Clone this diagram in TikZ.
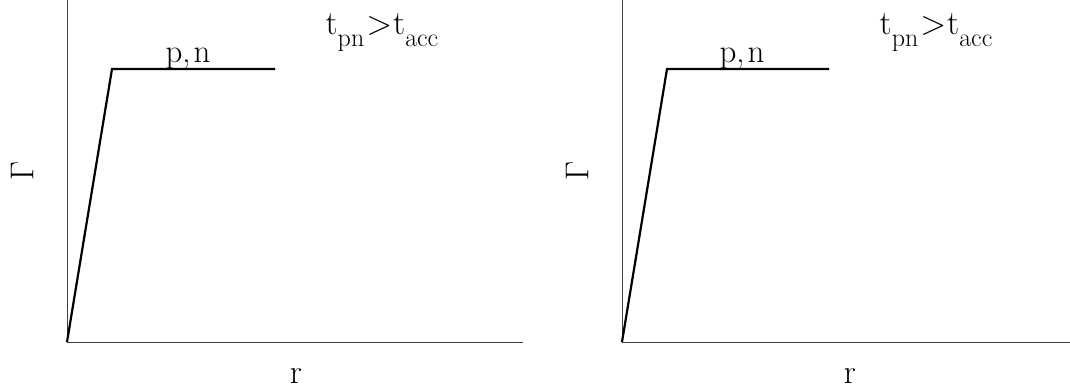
\RequirePackage{fix-cm}
\documentclass[tikz,border=0pt]{standalone}
\usepackage{amsmath, amssymb}
\usepackage{tikz}
\usetikzlibrary{positioning,calc}

\newcommand{\lowsub}[1]{\raisebox{-12pt}{\fontsize{26}{26}\selectfont #1}}

\begin{document}
\begin{tikzpicture}[x=1pt, y=1pt,
        axis/.style={line width=0.8pt, black!75},
        curve/.style={line width=2.2pt, black},
        lab/.style={inner sep=0pt, font=\fontsize{33}{36}\selectfont},
        cond/.style={inner sep=0pt, font=\fontsize{34}{40}\selectfont}
    ]
        \useasboundingbox (0,0) rectangle (1070,391);

        % Left panel
        \coordinate (O1) at (67,49);
        \coordinate (Y1) at (67,391);
        \coordinate (X1) at (523,49);
        \coordinate (K1) at (112,322);
        \coordinate (E1) at (275,322);
        \draw[axis] (Y1) -- (O1) -- (X1);
        \draw[curve] (O1) -- (K1) -- (E1);
        \node[lab, anchor=base] (pn1) at (188,328) {p,\kern3pt n};
        \node[cond, anchor=base] (t1) at (382,356) {t\lowsub{pn}\kern2pt>\kern1pt t\lowsub{acc}};
        \node[lab, rotate=90] (G1) at (22,220) {$\Gamma$};
        \node[cond, anchor=base] (r1) at (296,8) {r};

        % Right panel
        \coordinate (O2) at (622,49);
        \coordinate (Y2) at (622,391);
        \coordinate (X2) at (1070,49);
        \coordinate (K2) at (667,322);
        \coordinate (E2) at (829,322);
        \draw[axis] (Y2) -- (O2) -- (X2);
        \draw[curve] (O2) -- (K2) -- (E2);
        \node[lab, anchor=base] (pn2) at (742,328) {p,\kern3pt n};
        \node[cond, anchor=base] (t2) at (936,356) {t\lowsub{pn}\kern2pt>\kern1pt t\lowsub{acc}};
        \node[lab, rotate=90] (G2) at (577,220) {$\Gamma$};
        \node[cond, anchor=base] (r2) at (850,8) {r};
    \end{tikzpicture}
\end{document}
